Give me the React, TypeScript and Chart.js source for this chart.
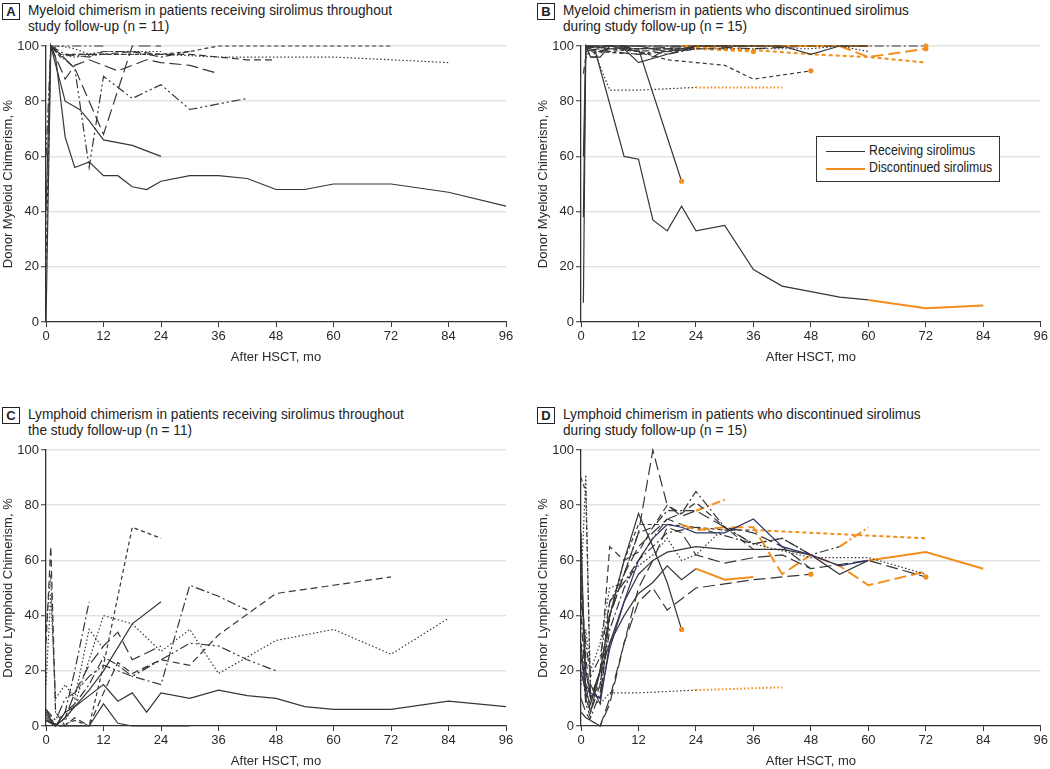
import React, { useEffect, useRef } from 'react';
import { Chart, registerables } from 'chart.js';
Chart.register(...registerables);

type Pt = [number, number];

// ---------- axis ticks ----------
const monthTicks = [0, 12, 24, 36, 48, 60, 72, 84, 96];
const percentTicks = [0, 20, 40, 60, 80, 100];

// ---------- Panel A: myeloid, receiving sirolimus ----------
const A1: Pt[] = [[0,0],[1,100],[2,96],[4,67],[6,56],[9,58],[12,53],[15,53],[18,49],[21,48],[24,51],[30,53],[36,53],[42,52],[48,48],[54,48],[60,50],[72,50],[84,47],[96,42]];
const A2: Pt[] = [[0,40],[1,100],[4,80],[7,77],[9,73],[12,66],[15,65],[18,64],[24,60]];
const A3: Pt[] = [[1,100],[2,96],[4,88],[6,93],[9,95],[15,91],[21,95],[24,94],[30,93],[36,90]];
const A4: Pt[] = [[1,100],[2,98],[6,92],[9,56],[12,89],[18,81],[24,86],[30,77],[36,79],[42,81]];
const A5: Pt[] = [[1,100],[3,97],[6,92],[12,68],[18,100],[24,100]];
const A6: Pt[] = [[0,20],[1,100],[3,97],[6,97],[12,97],[18,97],[24,97],[30,98],[36,100],[48,100],[60,100],[72,100]];
const A7: Pt[] = [[1,100],[3,97],[6,96],[12,97],[18,97],[24,97],[36,96],[48,96],[60,96],[72,95],[84,94]];
const A8: Pt[] = [[1,100],[3,96],[6,97],[12,97],[18,98],[24,97],[30,97],[36,96],[42,95],[48,95]];
const A9: Pt[] = [[0,60],[1,100],[3,100],[6,100],[9,100],[12,100]];
const A10: Pt[] = [[1,100],[2,99],[4,97],[9,96],[12,98],[18,98],[24,96],[30,98]];
const A11: Pt[] = [[1,99],[3,100],[6,99],[9,97],[12,98],[18,98],[24,98]];

// ---------- Panel B: myeloid, discontinued sirolimus ----------
const B1: Pt[] = [[0.5,7],[1,100],[3,98],[9,60],[12,59],[15,37],[18,33],[21,42],[24,33],[30,35],[36,19],[42,13],[48,11],[54,9],[60,8],[72,5],[84,6]];
const B2: Pt[] = [[0.5,38],[1,100],[6,99],[12,99],[21,51]];
const B3: Pt[] = [[1,97],[6,99],[12,98],[18,95],[24,94],[30,93],[36,88],[48,91]];
const B4: Pt[] = [[1,100],[3,97],[6,84],[12,84],[24,85],[42,85]];
const B5: Pt[] = [[1,100],[6,100],[12,100],[21,100],[36,100],[48,100],[60,100]];
const B6: Pt[] = [[1,99],[6,98],[12,99],[18,99],[24,99.5],[36,98.5],[48,97],[60,96],[72,94]];
const B7: Pt[] = [[1,100],[3,98],[12,97],[18,98],[24,99],[36,98]];
const B8: Pt[] = [[1,100],[6,100],[9,99],[12,94],[18,97],[24,100],[36,100],[42,100],[48,97],[54,100],[60,100]];
const B9: Pt[] = [[1,100],[12,100],[24,100],[36,100],[48,100],[60,100],[72,100]];
const B10: Pt[] = [[1,98],[6,100],[12,99],[24,100],[36,99],[48,100],[54,100],[60,96],[72,99]];
const B11: Pt[] = [[1,100],[6,99],[12,99],[24,99],[36,99],[48,99],[54,100],[60,98]];
const B12: Pt[] = [[0.5,90],[1,96],[3,96],[6,100],[12,98],[18,99],[24,99],[30,99]];
const B13: Pt[] = [[0.5,60],[1,100],[2,96],[4,96],[6,100],[12,100],[18,98],[24,100]];
const B14: Pt[] = [[1,100],[6,98],[12,97],[15,98],[18,97],[21,98],[24,99]];
const B15: Pt[] = [[1,99],[3,100],[9,100],[15,96],[18,99],[21,98],[24,100],[30,100],[36,100]];

// ---------- Panel C: lymphoid, receiving sirolimus ----------
const C1: Pt[] = [[0,5],[2,0],[4,5],[6,7],[9,11],[12,15],[15,9],[18,12],[21,5],[24,12],[30,10],[36,13],[42,11],[48,10],[54,7],[60,6],[72,6],[84,9],[96,7]];
const C2: Pt[] = [[0,4],[2,0],[4,3],[6,7],[9,13],[12,20],[18,37],[24,45]];
const C3: Pt[] = [[0,2],[3,0],[6,2],[9,0],[12,22],[18,72],[24,68]];
const C4: Pt[] = [[0,30],[1,65],[2,5],[4,0],[6,3],[9,0],[12,12],[15,23],[18,19],[24,24],[30,22],[36,33],[48,48],[60,51],[72,54]];
const C5: Pt[] = [[0,3],[2,0],[4,5],[6,8],[9,15],[12,25],[15,22],[18,18],[24,15],[30,51],[36,47],[42,42]];
const C6: Pt[] = [[0,6],[2,2],[4,10],[6,12],[9,18],[12,22],[15,20],[18,18],[24,24],[30,30],[36,29],[42,24],[48,20]];
const C7: Pt[] = [[0,35],[1,55],[2,5],[4,2],[6,8],[9,24],[12,40],[18,37],[24,27],[30,35],[36,19],[48,31],[60,35],[72,26],[84,39]];
const C8: Pt[] = [[0,2],[2,0],[4,3],[6,12],[9,22],[12,29],[15,34],[18,24],[24,29]];
const C9: Pt[] = [[0,6],[2,0],[4,5],[6,20],[9,45]];
const C10: Pt[] = [[0,2],[3,0],[6,0],[9,0],[12,8],[15,1],[18,0],[24,0],[30,0]];
const C11: Pt[] = [[0,15],[1,48],[2,10],[4,15],[6,10],[9,35],[12,28]];

// ---------- Panel D: lymphoid, discontinued sirolimus ----------
const D1: Pt[] = [[0,70],[1,10],[2,15],[4,8],[6,30],[9,45],[12,55],[15,60],[18,63],[24,65],[30,64],[36,64],[42,64],[48,62],[54,55],[60,60],[72,63],[84,57]];
const D2: Pt[] = [[0,50],[1,20],[2,10],[4,20],[6,40],[9,55],[12,65],[15,70],[18,75],[21,73],[24,71],[30,72],[36,72],[42,55],[48,62],[54,58],[60,51],[72,56]];
const D3: Pt[] = [[0,40],[1,15],[2,5],[4,15],[6,45],[9,55],[12,70],[15,72],[18,78],[24,78],[30,82]];
const D4: Pt[] = [[0,20],[1,12],[2,8],[4,20],[6,30],[9,40],[12,48],[15,52],[18,58],[21,53],[24,57],[30,53],[36,54]];
const D5: Pt[] = [[0,90],[1,85],[2,10],[4,15],[6,40],[9,60],[12,73],[18,73],[24,72],[30,71],[36,71],[72,68]];
const D6: Pt[] = [[0,30],[1,8],[2,3],[4,12],[6,35],[9,50],[12,60],[18,70],[24,72],[30,69],[36,66],[42,68],[48,62],[54,65],[60,72]];
const D7: Pt[] = [[0,50],[1,91],[2,10],[4,8],[6,12],[12,12],[24,13],[42,14]];
const D8: Pt[] = [[0,30],[1,10],[2,5],[4,20],[6,40],[9,60],[12,77],[15,65],[18,52],[21,35]];
const D9: Pt[] = [[0,10],[1,5],[2,2],[4,0],[6,10],[9,30],[12,45],[15,50],[18,42],[21,46],[24,50],[36,53],[48,55]];
const D10: Pt[] = [[0,60],[1,20],[2,12],[4,10],[6,40],[9,55],[12,70],[15,100],[18,80],[21,76],[24,78],[30,72],[36,70],[42,65],[48,57],[60,60],[72,54]];
const D11: Pt[] = [[0,45],[1,30],[2,18],[4,25],[6,45],[9,52],[12,60],[15,68],[18,75],[21,77],[24,85],[30,72],[36,66],[42,68],[48,62]];
const D12: Pt[] = [[0,25],[1,15],[2,12],[4,10],[6,28],[9,45],[12,60],[15,68],[18,73],[21,72],[24,70],[30,70],[36,75],[42,65],[48,62],[54,58],[60,60]];
const D13: Pt[] = [[0,15],[1,35],[2,20],[4,30],[6,50],[9,52],[12,58],[15,62],[18,68],[21,60],[24,62],[30,72],[36,66],[48,61],[60,61],[72,55]];
const D14: Pt[] = [[0,55],[1,25],[2,10],[4,20],[6,65],[9,60],[12,63],[15,72],[18,80],[21,77],[24,81],[30,72],[36,64]];
const D15: Pt[] = [[0,5],[1,3],[2,2],[4,0],[6,8],[9,30],[12,50],[15,60],[18,72],[21,70],[24,62],[30,59],[36,61],[42,62],[48,57]];

// ---------- styles (kept apart from the data) ----------
const BLACK = '#363636';
const NAVY = '#2c3566';
const ORANGE = '#f28e1c';
const FONT = '"Liberation Sans", Arial, sans-serif';

const DASH: Record<string, number[]> = {
  solid: [],
  short: [4, 3],
  dash: [7, 4],
  long: [12, 5],
  dashDot: [9, 3, 2, 3],
  dashDotDot: [9, 3, 2, 3, 2, 3],
  dotted: [1.5, 2.2],
};

interface S { data: Pt[]; dash: string; stop?: number; dot?: boolean; color?: string }

const seriesA: S[] = [
  { data: A1, dash: 'solid' }, { data: A2, dash: 'solid' }, { data: A3, dash: 'long' },
  { data: A4, dash: 'dashDotDot' }, { data: A5, dash: 'long' }, { data: A6, dash: 'short' },
  { data: A7, dash: 'dotted' }, { data: A8, dash: 'dash' }, { data: A9, dash: 'dashDotDot' },
  { data: A10, dash: 'dashDot' }, { data: A11, dash: 'dotted' },
];
const seriesB: S[] = [
  { data: B12, dash: 'dash' }, { data: B13, dash: 'solid' }, { data: B14, dash: 'dashDot' },
  { data: B15, dash: 'long' }, { data: B11, dash: 'dotted' }, { data: B8, dash: 'solid' },
  { data: B3, dash: 'short', dot: true }, { data: B9, dash: 'dashDot', dot: true },
  { data: B1, dash: 'solid', stop: 60 }, { data: B2, dash: 'solid', dot: true },
  { data: B4, dash: 'dotted', stop: 24 }, { data: B5, dash: 'solid', stop: 21 },
  { data: B6, dash: 'short', stop: 24 }, { data: B7, dash: 'short', stop: 24, dot: true },
  { data: B10, dash: 'long', stop: 54, dot: true },
];
const seriesC: S[] = [
  { data: C1, dash: 'solid' }, { data: C2, dash: 'solid' }, { data: C3, dash: 'short' },
  { data: C4, dash: 'dash' }, { data: C5, dash: 'dashDot' }, { data: C6, dash: 'dashDotDot' },
  { data: C7, dash: 'dotted' }, { data: C8, dash: 'long' }, { data: C9, dash: 'dashDot' },
  { data: C10, dash: 'solid' }, { data: C11, dash: 'dotted' },
];
const seriesD: S[] = [
  { data: D11, dash: 'dashDot' }, { data: D13, dash: 'dotted' }, { data: D14, dash: 'dash' },
  { data: D15, dash: 'long' }, { data: D12, dash: 'solid', color: NAVY },
  { data: D8, dash: 'solid', dot: true }, { data: D9, dash: 'long', dot: true },
  { data: D10, dash: 'long', dot: true }, { data: D1, dash: 'solid', stop: 60 },
  { data: D2, dash: 'long', stop: 21 }, { data: D3, dash: 'dashDot', stop: 24 },
  { data: D4, dash: 'solid', stop: 24 }, { data: D5, dash: 'short', stop: 36 },
  { data: D6, dash: 'dashDot', stop: 54 }, { data: D7, dash: 'dotted', stop: 24 },
];

const W = 1.2;
const WO = 2;

function PanelChart({ series, yTitle, left, top, width }: { series: S[]; yTitle: string; left: number; top: number; width: number }) {
  const ref = useRef<HTMLCanvasElement>(null);
  useEffect(() => {
    const tickFont = { family: FONT, size: 13 };
    const chart = new Chart(ref.current!, {
      type: 'line',
      data: {
        datasets: series.map((s) => {
          const base = s.color ?? BLACK;
          const last = s.data.length - 1;
          return {
            data: s.data.map(([x, y]) => ({ x, y })),
            borderColor: base,
            borderWidth: W,
            borderDash: DASH[s.dash],
            tension: 0,
            fill: false,
            clip: false as any,
            pointRadius: (c: any) => (s.dot && c.dataIndex === last ? 2.6 : 0),
            pointBackgroundColor: ORANGE,
            pointBorderColor: ORANGE,
            pointBorderWidth: 0,
            segment: s.stop !== undefined
              ? {
                  borderColor: (c: any) => (c.p0.parsed.x >= s.stop! ? ORANGE : base),
                  borderWidth: (c: any) => (c.p0.parsed.x >= s.stop! ? WO : W),
                }
              : undefined,
          };
        }),
      },
      options: {
        responsive: false,
        animation: false,
        events: [],
        layout: { padding: { top: 10, right: width - 46 - 460, left: 0, bottom: 0 } },
        plugins: { legend: { display: false }, tooltip: { enabled: false } },
        scales: {
          x: {
            type: 'linear',
            min: 0,
            max: 96,
            afterFit: (s: any) => { s.height = 43; },
            afterBuildTicks: (s: any) => { s.ticks = monthTicks.map((v) => ({ value: v })); },
            ticks: { font: tickFont, color: '#2a2a2a', padding: 2, maxRotation: 0 },
            grid: { drawOnChartArea: false, drawTicks: true, tickLength: 5, tickColor: '#333' },
            border: { color: '#333', width: 1.3 },
            title: { display: true, text: 'After HSCT, mo', font: { family: FONT, size: 13 }, color: '#2a2a2a', padding: { top: 0, bottom: 0 } },
          },
          y: {
            type: 'linear',
            min: 0,
            max: 100,
            afterFit: (s: any) => { s.width = 46; },
            afterBuildTicks: (s: any) => { s.ticks = percentTicks.map((v) => ({ value: v })); },
            ticks: { font: tickFont, color: '#2a2a2a', padding: 2 },
            grid: {
              color: (c: any) => (c.tick && c.tick.value === 0 ? 'rgba(0,0,0,0)' : '#e3e3e3'),
              lineWidth: 1.5,
              tickLength: 5,
              tickColor: '#333',
              tickWidth: 1,
            },
            border: { color: '#333', width: 1.3 },
            title: { display: true, text: yTitle, font: { family: FONT, size: 13 }, color: '#2a2a2a', padding: { top: 1, bottom: 0 } },
          },
        },
      } as any,
    });
    return () => chart.destroy();
  }, []);
  return (
    <canvas ref={ref} width={width} height={329} style={{ position: 'absolute', left, top, width, height: 329 }} />
  );
}

function Title({ letter, lines, left, top }: { letter: string; lines: string[]; left: number; top: number }) {
  return (
    <>
      <div style={{ position: 'absolute', left, top: top + 1, width: 16, height: 15, border: '1.5px solid #222', fontFamily: FONT, fontWeight: 'bold', fontSize: 13, lineHeight: '15px', textAlign: 'center', color: '#222' }}>{letter}</div>
      <div style={{ position: 'absolute', left: left + 26, top, fontFamily: FONT, fontSize: 15, lineHeight: '16px', color: '#222', whiteSpace: 'nowrap', transform: 'scaleX(0.91)', transformOrigin: 'left top' }}>
        {lines.map((l, i) => <div key={i}>{l}</div>)}
      </div>
    </>
  );
}

export default function App() {
  return (
    <div style={{ position: 'absolute', left: 0, top: 0, width: 1050, height: 769, overflow: 'hidden', background: '#fff' }}>
      <Title letter="A" lines={['Myeloid chimerism in patients receiving sirolimus throughout', 'study follow-up (n = 11)']} left={2} top={2} />
      <Title letter="B" lines={['Myeloid chimerism in patients who discontinued sirolimus', 'during study follow-up (n = 15)']} left={537} top={2} />
      <Title letter="C" lines={['Lymphoid chimerism in patients receiving sirolimus throughout', 'the study follow-up (n = 11)']} left={2} top={406} />
      <Title letter="D" lines={['Lymphoid chimerism in patients who discontinued sirolimus', 'during study follow-up (n = 15)']} left={537} top={406} />
      <PanelChart series={seriesA} yTitle="Donor Myeloid Chimerism, %" left={0} top={36} width={520} />
      <PanelChart series={seriesB} yTitle="Donor Myeloid Chimerism, %" left={535} top={36} width={515} />
      <PanelChart series={seriesC} yTitle="Donor Lymphoid Chimerism, %" left={0} top={440} width={520} />
      <PanelChart series={seriesD} yTitle="Donor Lymphoid Chimerism, %" left={535} top={440} width={515} />
      <div style={{ position: 'absolute', left: 816, top: 136, width: 182, height: 44, border: '1.5px solid #333', background: '#fff', fontFamily: FONT, fontSize: 14, color: '#222' }}>
        <div style={{ position: 'absolute', left: 9, top: 14, width: 39, height: 0, borderTop: '1.5px solid #333' }} />
        <div style={{ position: 'absolute', left: 52, top: 5, whiteSpace: 'nowrap', transform: 'scaleX(0.88)', transformOrigin: 'left top' }}>Receiving sirolimus</div>
        <div style={{ position: 'absolute', left: 9, top: 31, width: 39, height: 0, borderTop: '2px solid ' + ORANGE }} />
        <div style={{ position: 'absolute', left: 52, top: 22, whiteSpace: 'nowrap', transform: 'scaleX(0.88)', transformOrigin: 'left top' }}>Discontinued sirolimus</div>
      </div>
    </div>
  );
}
